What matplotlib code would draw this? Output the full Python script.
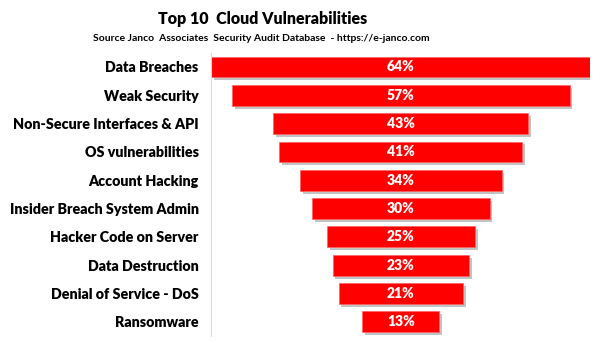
import numpy as np
import matplotlib.pyplot as plt
import matplotlib.patheffects as pe

categories = ["Data Breaches", "Weak Security", "Non-Secure Interfaces & API",
              "OS vulnerabilities", "Account Hacking", "Insider Breach System Admin",
              "Hacker Code on Server", "Data Destruction", "Denial of Service - DoS",
              "Ransomware"]
values = [64, 57, 43, 41, 34, 30, 25, 23, 21, 13]

plt.rcParams['font.family'] = ['Lato', 'DejaVu Sans']

fig = plt.figure(figsize=(6, 3.43), dpi=100)
ax = fig.add_axes([0.352, 0.020, 0.632, 0.826])

vmax = max(values)
y = np.arange(len(values))
lefts = [(vmax - v) / 2 for v in values]
bars = ax.barh(y, values, left=lefts, height=0.74, color="#ff0000",
               edgecolor="#ff6060", linewidth=0.5)
for b in bars:
    b.set_path_effects([pe.SimplePatchShadow(offset=(2, -2), shadow_rgbFace="#888888", alpha=0.5),
                        pe.Normal()])

for yi, v in zip(y, values):
    ax.text(vmax / 2, yi, f"{v}%", ha="center", va="center", color="white",
            fontsize=10, fontweight="heavy")

ax.set_xlim(0, vmax)
ax.set_ylim(len(values) - 0.5, -0.5)
ax.set_yticks(y)
ax.set_yticklabels(categories, fontsize=10.3, fontweight="heavy")
ax.tick_params(axis="y", length=0, pad=9)
ax.set_xticks([])
for s in ["top", "right", "bottom"]:
    ax.spines[s].set_visible(False)
ax.spines["left"].set_color("#d9d9d9")

fig.text(0.437, 0.945, "Top 10  Cloud Vulnerabilities", ha="center", va="center",
         fontsize=11.5, fontweight="heavy")
fig.text(0.435, 0.889, "Source Janco  Associates  Security Audit Database  - https://e-janco.com",
         ha="center", va="center", fontsize=7.5, fontweight="bold")

fig.savefig("out.png", dpi=100)
